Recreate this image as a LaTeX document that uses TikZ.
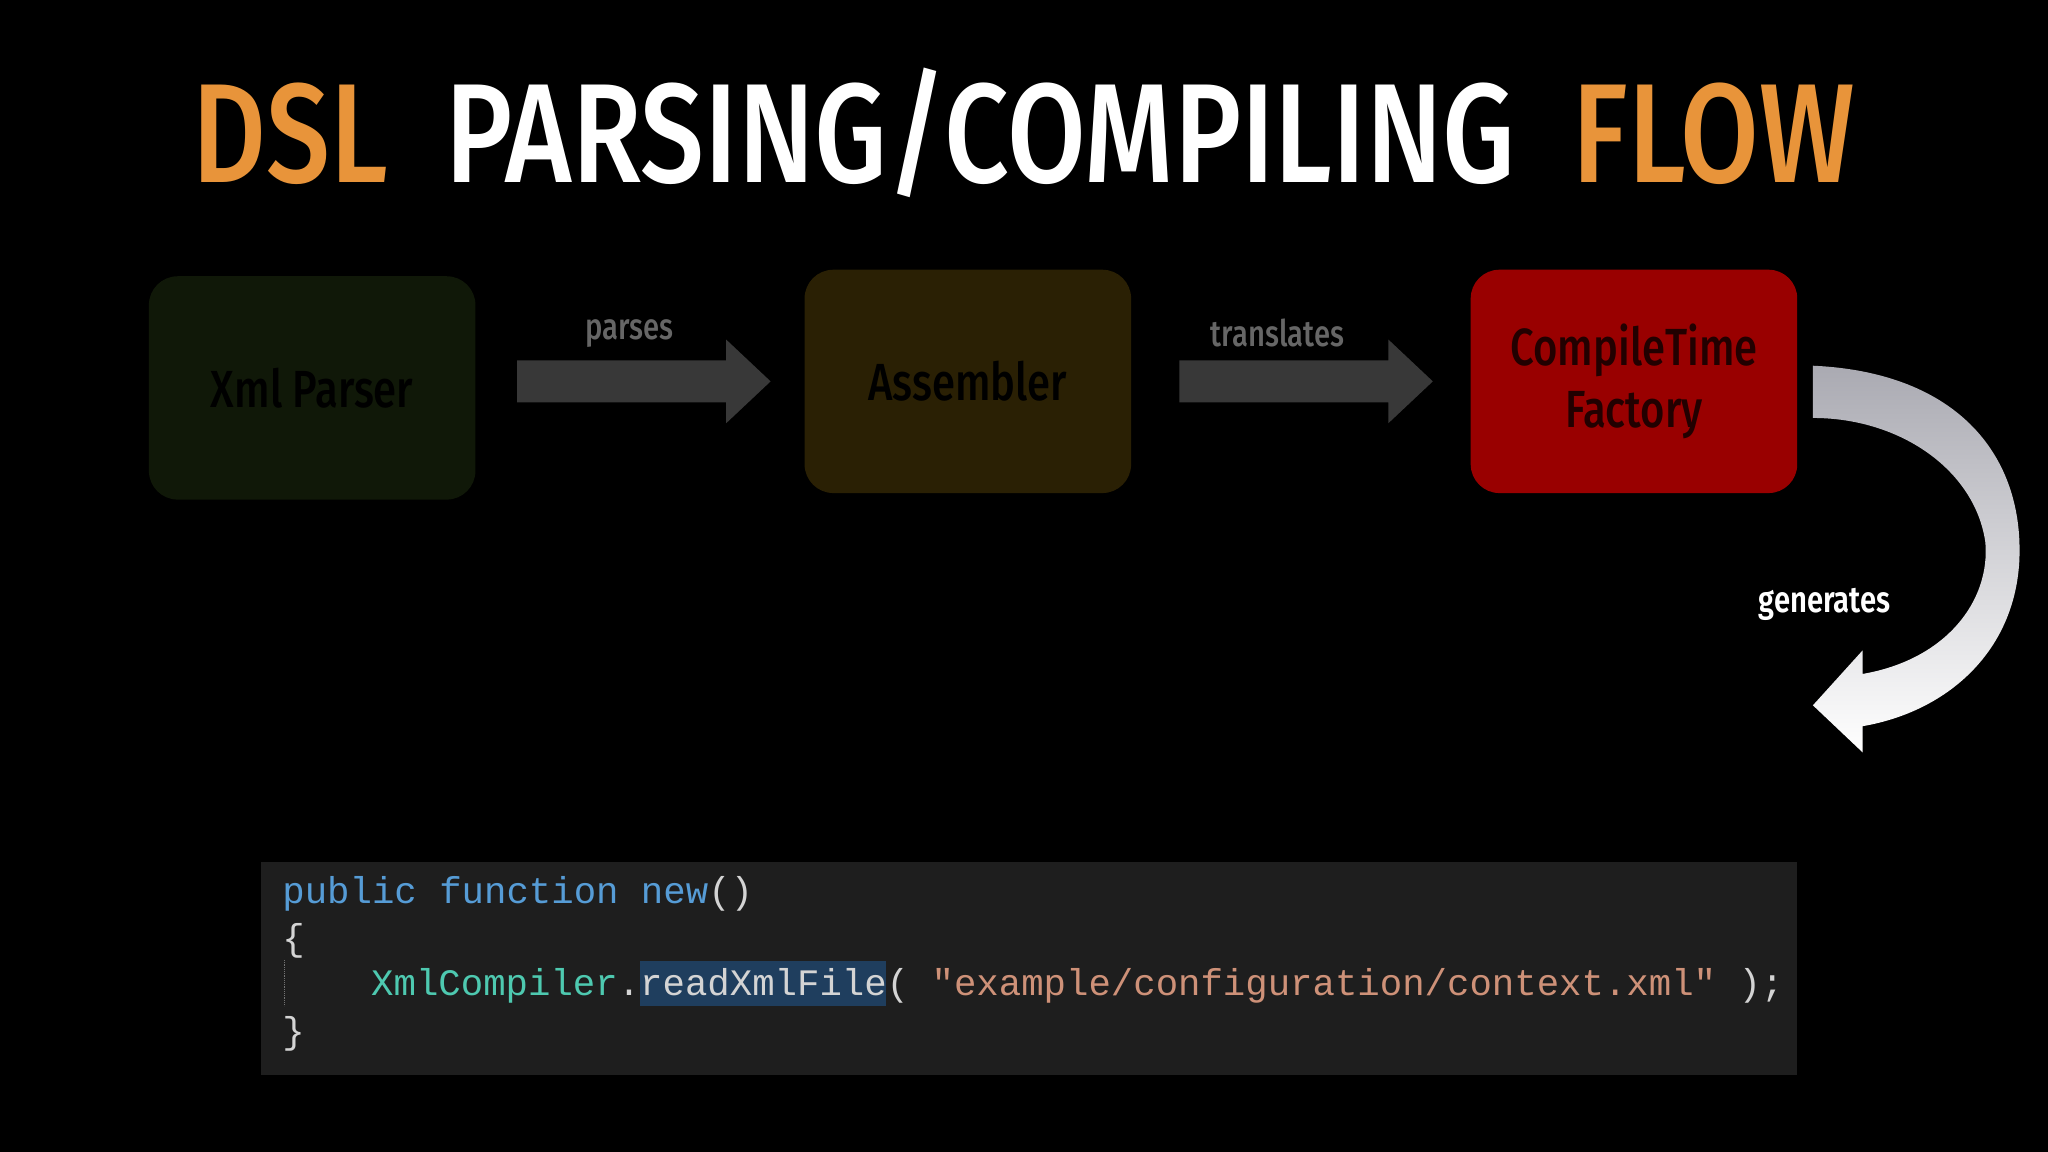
\documentclass[tikz,border=0pt]{standalone}
\usepackage{fontspec}
\setmainfont{Fira Sans}[FakeStretch=0.8,UprightFont=* Medium,BoldFont=* SemiBold]
\newfontfamily\codefont{Liberation Mono}
\definecolor{orng}{HTML}{E8943A}
\definecolor{kw}{HTML}{569CD6}
\definecolor{cls}{HTML}{4EC9B0}
\definecolor{str}{HTML}{CE9178}
\definecolor{plain}{HTML}{D4D4D4}
\definecolor{sel}{HTML}{1F3E5E}
\definecolor{gbox}{HTML}{101808}
\definecolor{ybox}{HTML}{2A2004}
\definecolor{rbox}{HTML}{990000}
\definecolor{rtext}{HTML}{220000}
\definecolor{codebg}{HTML}{1E1E1E}
\tikzset{
  stage/.style={rounded corners=22pt,minimum width=250pt,minimum height=171pt,inner sep=0pt,align=center,font=\fontsize{40}{48}\selectfont},
  flow/.style={fill=black!78!white,draw=none},
  lbl/.style={text=black!60,font=\fontsize{28}{32}\selectfont},
  codeln/.style={anchor=base west,inner sep=0pt,font=\codefont\fontsize{28.6}{32}\selectfont}
}
\begin{document}
\begin{tikzpicture}[x=1pt,y=-1pt]
\fill[black] (0,0) rectangle (1568,882);
\useasboundingbox (0,0) rectangle (1568,882);
\node[font=\fontsize{108}{120}\selectfont,xscale=1.01] (title) at (784,102)
  {\textcolor{orng}{DSL}\ \ \textcolor{white}{PARSING/COMPILING}\ \ \textcolor{orng}{FLOW}};
\node[stage,fill=gbox,text=black] (xml) at (239,297) {Xml Parser};
\node[stage,fill=ybox,text=black] (asm) at (741,292) {Assembler};
\node[stage,fill=rbox,text=rtext] (ctf) at (1251,292) {CompileTime\\Factory};
\coordinate (a1s) at (396,292); \coordinate (a1e) at (590,292);
\coordinate (a2s) at (903,292); \coordinate (a2e) at (1097,292);
\fill[flow] (a1s) ++(0,-16) -- ++(160,0) -- ++(0,-16) -- (a1e) -- ++(-34,32) -- ++(0,-16) -- ++(-160,0) -- cycle;
\fill[flow] (a2s) ++(0,-16) -- ++(160,0) -- ++(0,-16) -- (a2e) -- ++(-34,32) -- ++(0,-16) -- ++(-160,0) -- cycle;
\node[lbl] (l1) at (482,255) {parses};
\node[lbl] (l2) at (978,255) {translates};
\shade[top color={rgb,255:red,170;green,170;blue,178},bottom color=white]
  (1388,280) .. controls (1500,285) and (1550,350) .. (1546,430)
  .. controls (1542,500) and (1490,545) .. (1426,556)
  -- (1426,576) -- (1388,540) -- (1426,498) -- (1426,516)
  .. controls (1490,505) and (1524,460) .. (1520,415)
  .. controls (1512,360) and (1455,320) .. (1388,320) -- cycle;
\node[text=white,font=\bfseries\fontsize{28}{32}\selectfont] (gen) at (1397,463) {generates};
\node[fill=codebg,minimum width=1176pt,minimum height=163pt,inner sep=0pt] (code) at (788,741.5) {};
\fill[sel] (490,736) rectangle (678,770);
\draw[black!55,densely dotted] (218,735) -- (218,770);
\node[codeln] (c1) at (216,692) {\textcolor{kw}{public function new}\textcolor{plain}{()}};
\node[codeln] (c2) at (216,728) {\textcolor{plain}{\{}};
\node[codeln] (c3) at (284,762) {\textcolor{cls}{XmlCompiler}\textcolor{plain}{.readXmlFile(\ }\textcolor{str}{"example/configuration/context.xml"}\textcolor{plain}{\ );}};
\node[codeln] (c4) at (216,799) {\textcolor{plain}{\}}};
\end{tikzpicture}
\end{document}
